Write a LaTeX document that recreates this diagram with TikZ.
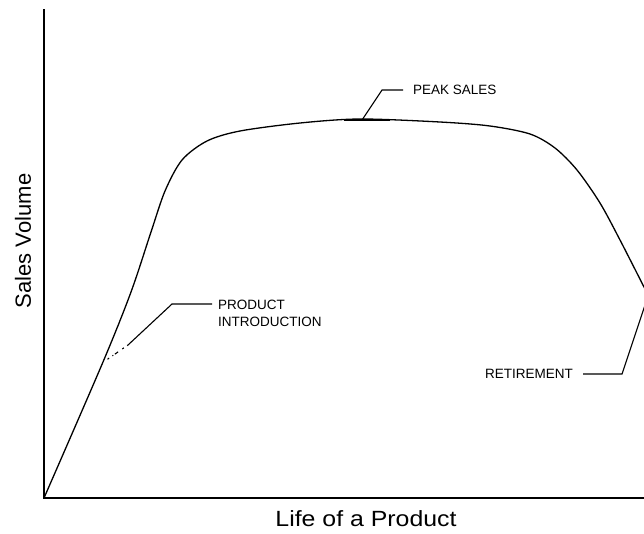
\documentclass[tikz,border=0pt]{standalone}
\usepackage{fontspec}
\setmainfont{Liberation Sans}
\begin{document}
\begin{tikzpicture}[x=1pt,y=-1pt,
  axis/.style={line width=1.3pt, black},
  curve/.style={line width=1.3pt, black, line join=round},
  leader/.style={line width=1.1pt, black},
  lbl/.style={font=\fontsize{13.5}{17}\selectfont, inner sep=0pt, text=black},
  axlbl/.style={font=\fontsize{22}{26}\selectfont, inner sep=0pt, text=black}]
\useasboundingbox (0,0) rectangle (644,533);
% axes
\coordinate (top) at (44,9);
\coordinate (origin) at (44,498);
\coordinate (right) at (644,498);
\draw[axis] (top) -- (origin) -- (right);
% product life curve
\draw[curve] plot[smooth, tension=0.5] coordinates {
  (44,498) (103,362) (131,292) (151,232) (165,191) (182,160) (207,141)
  (240,131) (300,123) (360,119) (440,122) (490,126) (530,134) (555,148)
  (577,170) (600,203) (620,240) (646,291)};
% peak marker
\coordinate (pkL) at (344,120);
\coordinate (pkR) at (390,120);
\draw[line width=2.4pt] (pkL) -- (pkR);
% labels
\node[lbl, anchor=west] (peak) at (413,90) {PEAK SALES};
\node[lbl, anchor=west, align=left] (intro) at (218,313) {PRODUCT\\INTRODUCTION};
\node[lbl, anchor=east] (ret) at (573,374) {RETIREMENT};
\node[axlbl, rotate=90] (ylab) at (23,241) {Sales Volume};
\node[axlbl, xscale=1.13] (xlab) at (366,519) {Life of a Product};
% leaders
\coordinate (pk) at (362,120);
\coordinate (pkbend) at (382,90);
\draw[leader] (pk) -- (pkbend) -- ([xshift=-10pt]peak.west);
\coordinate (inA) at (212,304);
\coordinate (inbend) at (172,304);
\coordinate (inmid) at (128,345);
\coordinate (inend) at (105,361);
\draw[leader] (inA) -- (inbend) -- (inmid);
\draw[leader, dash pattern=on 1pt off 4pt on 2pt off 5pt on 4pt off 2pt] (inmid) -- (inend);
\coordinate (rtA) at (583,374);
\coordinate (rtbend) at (622,374);
\coordinate (rtend) at (645,305);
\draw[leader] (rtA) -- (rtbend) -- (rtend);
\end{tikzpicture}
\end{document}
